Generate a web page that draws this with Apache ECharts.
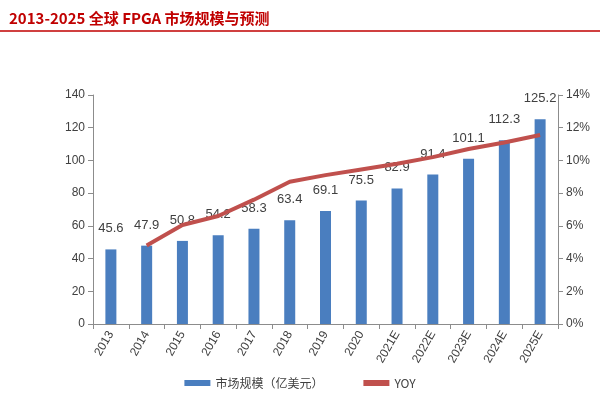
<!DOCTYPE html>
<html><head><meta charset="utf-8">
<script src="https://cdn.jsdelivr.net/npm/echarts@6/dist/echarts.min.js"></script>
<style>html,body{margin:0;padding:0;background:#fff}#c{width:600px;height:400px}</style>
</head><body><div id="c"></div>
<script>
const categories = ['2013','2014','2015','2016','2017','2018','2019','2020','2021E','2022E','2023E','2024E','2025E'];
const marketSize = [45.6,47.9,50.8,54.2,58.3,63.4,69.1,75.5,82.9,91.4,101.1,112.3,125.2];
const yoy = [null,4.8,6.05,6.6,7.6,8.7,9.1,9.45,9.8,10.2,10.7,11.1,11.55];
const chart = echarts.init(document.getElementById('c'));
const axisCommon = {axisLine:{show:true,lineStyle:{color:'#8c8c8c'}},axisTick:{show:true,lineStyle:{color:'#8c8c8c'}},splitLine:{show:false},axisLabel:{color:'#404040',fontSize:12,fontFamily:'Liberation Sans'}};
chart.setOption({
  animation:false,
  title:{text:'2013-2025 全球 FPGA 市场规模与预测',left:4,top:6,textStyle:{color:'#c00000',fontSize:15,fontWeight:'bold',fontFamily:'Noto Sans CJK SC'}},
  graphic:[{type:'line',shape:{x1:0,y1:31,x2:600,y2:31},style:{stroke:'#c00000',lineWidth:1.5}}],
  grid:{left:93,right:42,top:95,bottom:76},
  legend:{bottom:6,left:'center',itemGap:40,textStyle:{color:'#404040',fontSize:12,fontFamily:'Noto Sans CJK SC'},
    data:[{name:'市场规模（亿美元）',icon:'rect'},{name:'YOY',icon:'rect'}],itemWidth:26,itemHeight:6},
  xAxis:{type:'category',data:categories,...axisCommon,axisTick:{show:true,alignWithLabel:false,lineStyle:{color:'#8c8c8c'}},axisLabel:{...axisCommon.axisLabel,rotate:60,margin:8}},
  yAxis:[
    {type:'value',min:0,max:140,interval:20,...axisCommon},
    {type:'value',min:0,max:14,interval:2,...axisCommon,axisLabel:{...axisCommon.axisLabel,formatter:'{value}%'}}
  ],
  series:[
    {name:'市场规模（亿美元）',type:'bar',data:marketSize,barWidth:11,itemStyle:{color:'#4a7ebf'},
     label:{show:true,position:'top',distance:14,color:'#404040',fontSize:13,fontFamily:'Liberation Sans'}},
    {name:'YOY',type:'line',yAxisIndex:1,data:yoy,symbol:'none',lineStyle:{color:'#c0504d',width:4},itemStyle:{color:'#c0504d'}}
  ]
});
</script></body></html>
